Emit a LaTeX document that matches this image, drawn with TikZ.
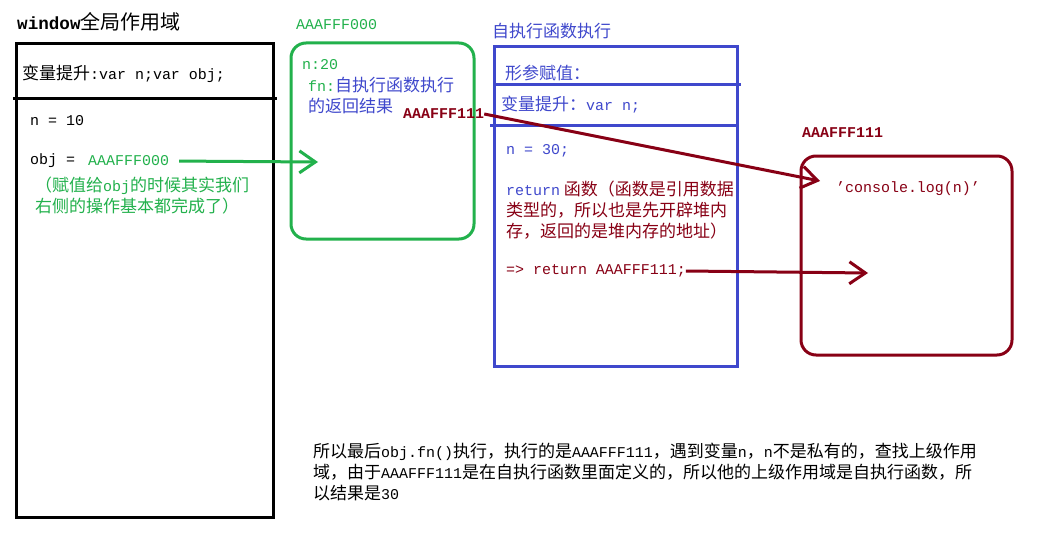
\documentclass[tikz,border=0pt]{standalone}
\usepackage{fontspec}
\setmainfont{Noto Sans CJK SC}
\newfontfamily\cd[Scale=0.88]{Liberation Mono}
\usetikzlibrary{arrows.meta}
\definecolor{pg}{HTML}{22B14C}
\definecolor{pb}{HTML}{3F48CC}
\definecolor{pr}{HTML}{880015}
\tikzset{
  txt/.style={anchor=west,inner sep=0pt,font=\fontsize{17}{21}\selectfont,align=left},
  para/.style={anchor=north west,inner sep=0pt,font=\fontsize{17}{21}\selectfont,align=left},
  frame/.style={draw,line width=3pt,inner sep=0pt},
  conn/.style={line width=3pt,-{Straight Barb[length=16pt,width=22pt,line width=3pt]}},
}
\begin{document}
\begin{tikzpicture}[x=1pt,y=-1pt]
\useasboundingbox[fill=white] (0,0) rectangle (1038,543);
% boxes
\node[frame,minimum width=257pt,minimum height=473pt] (winbox) at (144.5,280.5) {};
\draw[line width=3pt] (13,98) -- (277,98);
\node[frame,draw=pg,rounded corners=15pt,minimum width=183pt,minimum height=196pt] (heap0) at (382.5,141) {};
\node[frame,draw=pb,minimum width=243pt,minimum height=319pt] (selfbox) at (615.5,206.5) {};
\draw[pb,line width=3pt] (494,84) -- (741,84);
\draw[pb,line width=3pt] (490,125) -- (737,125);
\node[frame,draw=pr,rounded corners=15pt,minimum width=211pt,minimum height=199pt] (heap1) at (906.5,255.5) {};
% window texts
\node[txt,font=\fontsize{20}{23}\selectfont] (title) at (17,22) {{\cd\bfseries window}全局作用域};
\node[txt] (hoist) at (22,74) {变量提升{\cd :var n;var obj;}};
\node[txt] (n10) at (30,121) {\cd n = 10};
\node[txt] (objeq) at (30,161) {\cd obj = };
\node[txt,text=pg] (a000) at (88,161) {\cd AAAFFF000};
\node[para,text=pg] (note) at (35,177) {（赋值给{\cd obj}的时候其实我们\\右侧的操作基本都完成了）};
% green heap
\node[txt,text=pg] (l000) at (296,25) {\cd AAAFFF000};
\node[txt,text=pg] (n20) at (302,65) {\cd n:20};
\node[para,text=pb] (fn) at (308,77) {{\color{pg}\cd fn:}自执行函数执行\\的返回结果};
\node[txt,text=pr] (a111) at (403,114) {\cd\bfseries AAAFFF111};
% self-executing function
\node[txt,text=pb] (stitle) at (492,31) {自执行函数执行};
\node[txt,text=pb] (param) at (505,73) {形参赋值：};
\node[txt,text=pb] (hoist2) at (501,105) {变量提升：{\cd var n;}};
\node[txt,text=pb] (n30) at (506,151) {\cd n = 30;};
\node[para,text=pr] (ret) at (506,181) {{\color{pb}\cd return}\ 函数（函数是引用数据\\类型的，所以也是先开辟堆内\\存，返回的是堆内存的地址）};
\node[txt,text=pr] (ret2) at (506,271) {\cd => return AAAFFF111;};
% red heap
\node[txt,text=pr] (l111) at (802,133) {\cd\bfseries AAAFFF111};
\node[txt,text=pr] (console) at (836,189) {\cd ’console.log(n)’};
% bottom note
\node[para] (concl) at (313,443) {所以最后{\cd obj.fn()}执行，执行的是{\cd AAAFFF111}，遇到变量{\cd n}，{\cd n}不是私有的，查找上级作用\\域，由于{\cd AAAFFF111}是在自执行函数里面定义的，所以他的上级作用域是自执行函数，所\\以结果是{\cd 30}};
% connectors
\coordinate (gtip) at (318,162);
\coordinate (rtip1) at (820,181);
\coordinate (rtip2) at (868,273);
\draw[conn,pg,shorten <=10pt] (a000.east) -- (gtip);
\draw[conn,pr] (a111.east) -- (rtip1);
\draw[conn,pr] (ret2.east) -- (rtip2);
\end{tikzpicture}
\end{document}
